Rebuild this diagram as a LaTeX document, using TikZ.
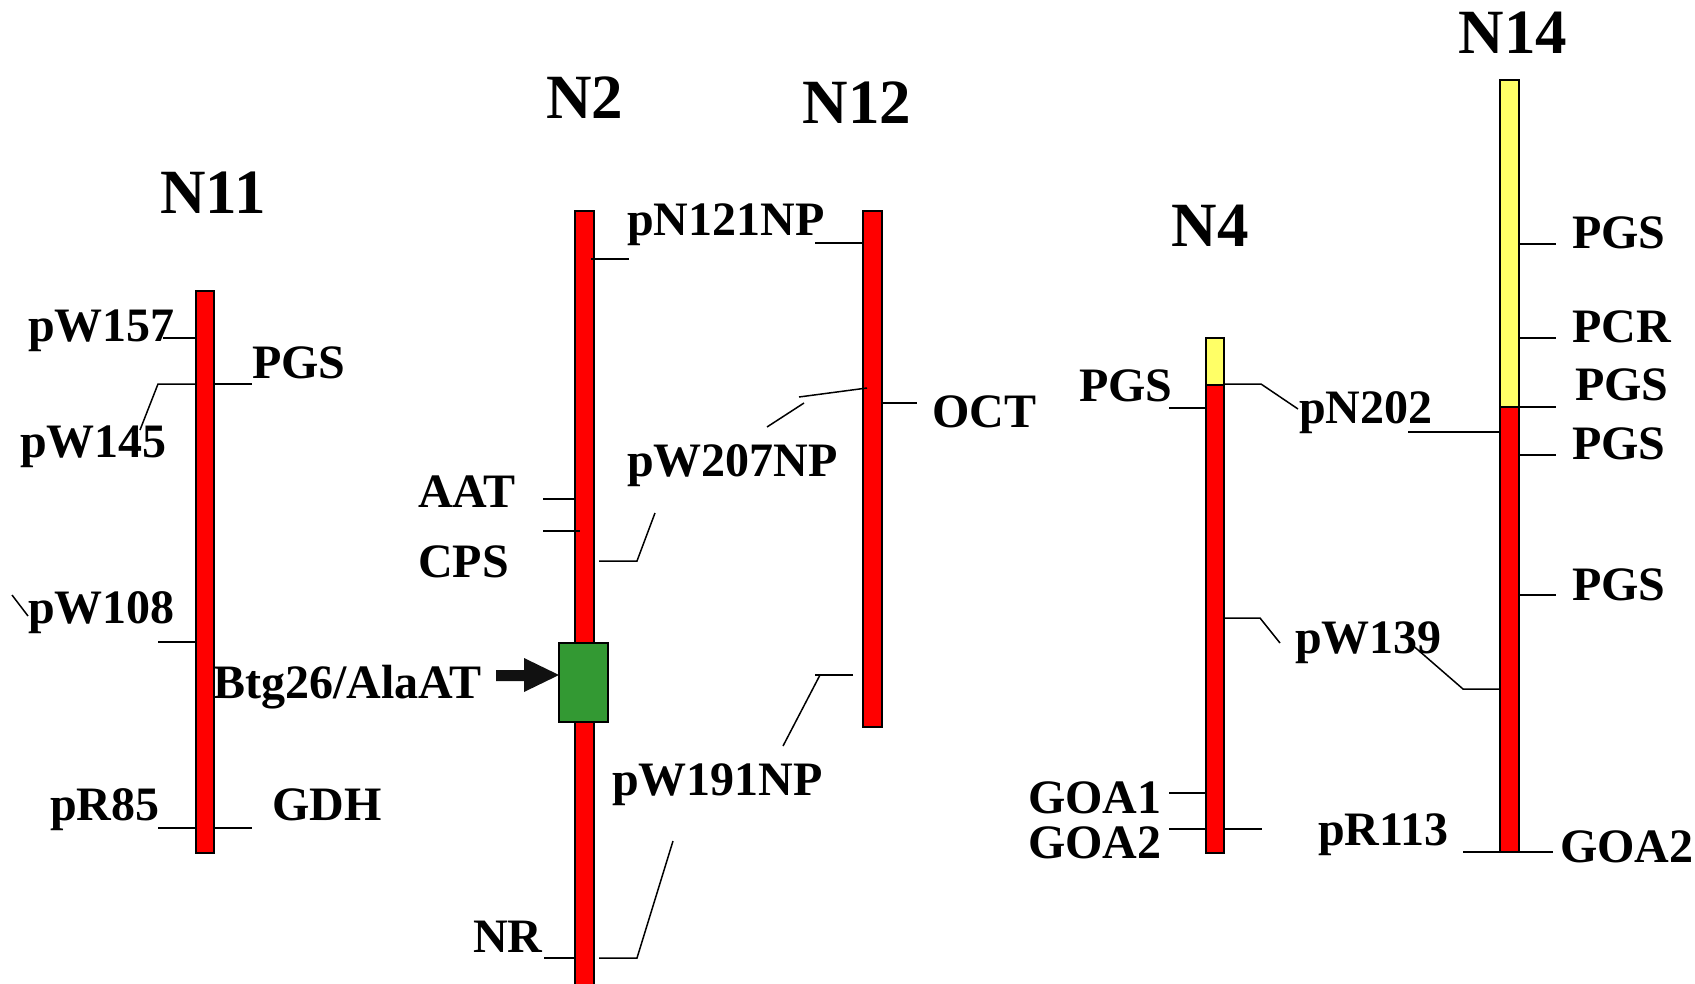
\documentclass[tikz,border=0pt]{standalone}
\usepackage{fontspec}
\setmainfont{Liberation Serif}
\newcommand\labfont{\fontsize{48}{50}\selectfont\bfseries}
\newcommand\titfont{\fontsize{63}{66}\selectfont\bfseries}
\definecolor{chrred}{RGB}{255,0,0}
\definecolor{chryel}{RGB}{255,255,102}
\definecolor{boxgreen}{RGB}{51,153,51}
\definecolor{arrowblk}{RGB}{17,17,17}
\begin{document}
\begin{tikzpicture}[x=1pt,y=-1pt,
  lab/.style={font=\labfont, inner sep=0pt, anchor=base west},
  ttl/.style={font=\titfont, inner sep=0pt, anchor=base},
  chr/.style={draw=black, line width=1.5pt},
  tick/.style={draw=black, line width=1.5pt}]
\useasboundingbox (0,0) rectangle (1695,983);

% ---------- N11 ----------
\node[ttl] (tN11) at (213,213) {N11};
\draw[chr, fill=chrred] (196,291) rectangle (214,853);
\node[lab] (l157) at (28,341) {pW157};
\node[lab] (lpgs11) at (252,378) {PGS};
\node[lab] (l145) at (20,457) {pW145};
\node[lab] (l108) at (28,623) {pW108};
\node[lab] (l85) at (50,820) {pR85};
\node[lab] (lgdh) at (272,820) {GDH};
\draw[tick] (163,338) -- (196,338);
\draw[tick] (214,384) -- (252,384);
\draw[tick] (196,384) -- (158,384) -- (140,430);
\draw[tick] (12,595) -- (28,616);
\draw[tick] (158,642) -- (196,642);
\draw[tick] (158,828) -- (196,828);
\draw[tick] (214,828) -- (252,828);

% ---------- N2 ----------
\node[ttl] (tN2) at (585,118) {N2};
\draw[chr, fill=chrred] (575,211) rectangle (594,985);
\draw[chr, fill=boxgreen] (559,643) rectangle (608,722);
\fill[arrowblk] (496,670) -- (524,670) -- (524,658) -- (559,675) -- (524,692) -- (524,681) -- (496,681) -- cycle;
\node[lab] (lpn121) at (627,235) {pN121NP};
\node[lab] (lpw207) at (627,476) {pW207NP};
\node[lab] (laat) at (418,507) {AAT};
\node[lab] (lcps) at (418,577) {CPS};
\node[lab] (lbtg) at (213,698) {Btg26/AlaAT};
\node[lab] (lpw191) at (612,795) {pW191NP};
\node[lab] (lnr) at (473,952) {NR};
\draw[tick] (591,259) -- (629,259);
\draw[tick] (543,499) -- (575,499);
\draw[tick] (543,531) -- (580,531);
\draw[tick] (599,561) -- (637,561) -- (655,513);
\draw[tick] (544,958) -- (575,958);
\draw[tick] (599,958) -- (637,958) -- (673,841);

% ---------- N12 ----------
\node[ttl] (tN12) at (857,123) {N12};
\draw[chr, fill=chrred] (863,211) rectangle (882,727);
\node[lab] (loct) at (932,427) {OCT};
\draw[tick] (815,243) -- (863,243);
\draw[tick] (867,388) -- (799,397);
\draw[tick] (804,403) -- (767,427);
\draw[tick] (882,403) -- (917,403);
\draw[tick] (853,675) -- (815,675);
\draw[tick] (820,675) -- (783,746);

% ---------- N4 ----------
\node[ttl] (tN4) at (1210,246) {N4};
\draw[chr, fill=chryel] (1206,338) rectangle (1224,385);
\draw[chr, fill=chrred] (1206,385) rectangle (1224,853);
\node[lab] (lpgs4) at (1079,401) {PGS};
\node[lab] (lpn202) at (1299,423) {pN202};
\node[lab] (lpw139) at (1295,653) {pW139};
\node[lab] (lgoa1) at (1028,813) {GOA1};
\node[lab] (lgoa2a) at (1028,858) {GOA2};
\node[lab] (lpr113) at (1318,845) {pR113};
\draw[tick] (1169,408) -- (1206,408);
\draw[tick] (1224,384) -- (1261,384) -- (1298,409);
\draw[tick] (1225,618) -- (1260,618) -- (1280,643);
\draw[tick] (1169,793) -- (1206,793);
\draw[tick] (1169,829) -- (1206,829);
\draw[tick] (1224,829) -- (1262,829);

% ---------- N14 ----------
\node[ttl] (tN14) at (1513,53) {N14};
\draw[chr, fill=chryel] (1500,80) rectangle (1519,407);
\draw[chr, fill=chrred] (1500,407) rectangle (1519,852);
\node[lab] (lpgs14a) at (1572,248) {PGS};
\node[lab] (lpcr) at (1572,342) {PCR};
\node[lab] (lpgs14b) at (1575,400) {PGS};
\node[lab] (lpgs14c) at (1572,459) {PGS};
\node[lab] (lpgs14d) at (1572,600) {PGS};
\node[lab] (lgoa2b) at (1560,862) {GOA2};
\draw[tick] (1519,244) -- (1556,244);
\draw[tick] (1519,338) -- (1556,338);
\draw[tick] (1519,407) -- (1556,407);
\draw[tick] (1519,455) -- (1556,455);
\draw[tick] (1519,595) -- (1556,595);
\draw[tick] (1519,852) -- (1553,852);
\draw[tick] (1408,432) -- (1500,432);
\draw[tick] (1410,643) -- (1463,689) -- (1500,689);
\draw[tick] (1463,852) -- (1500,852);
\end{tikzpicture}
\end{document}
